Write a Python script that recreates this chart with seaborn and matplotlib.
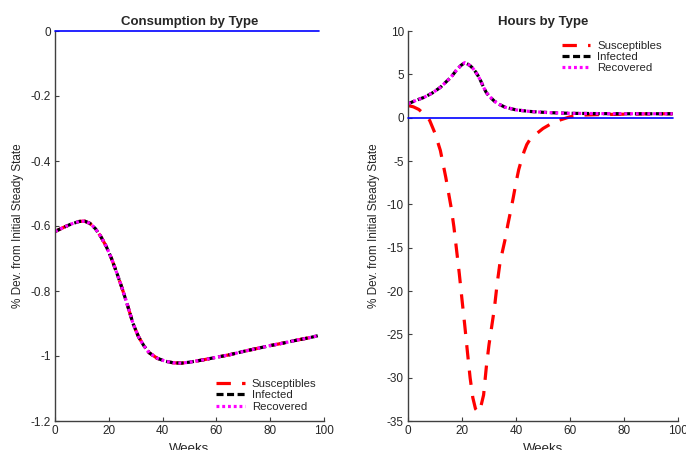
import matplotlib
matplotlib.use("Agg")
import matplotlib.pyplot as plt
import seaborn as sns
import pandas as pd

# ---- data -------------------------------------------------------------
cons_weeks = [0, 3, 6, 9, 11, 13, 15, 17, 19, 21, 23, 25, 27, 29, 31, 33, 35,
              38, 41, 44, 47, 50, 55, 60, 65, 70, 75, 80, 85, 90, 95, 98]
cons_values = [-0.617, -0.605, -0.594, -0.586, -0.585, -0.592, -0.608, -0.632,
               -0.662, -0.700, -0.745, -0.793, -0.845, -0.900, -0.940, -0.968,
               -0.990, -1.007, -1.016, -1.021, -1.022, -1.019, -1.012, -1.004,
               -0.996, -0.986, -0.977, -0.968, -0.960, -0.951, -0.943, -0.937]

hrs_inf_weeks = [0, 3, 6, 9, 12, 14, 16, 18, 19.5, 21, 22, 23, 24, 25, 26, 27,
                 28, 29, 30, 31, 32, 34, 36, 38, 40, 45, 50, 55, 60, 70, 80, 90, 98]
hrs_inf_values = [1.6, 2.0, 2.35, 2.85, 3.5, 4.1, 4.7, 5.5, 6.0, 6.35, 6.2, 6.0,
                  5.7, 5.3, 4.8, 4.2, 3.5, 2.9, 2.5, 2.2, 1.9, 1.5, 1.2, 1.05,
                  0.9, 0.72, 0.62, 0.55, 0.5, 0.47, 0.45, 0.45, 0.45]

hrs_sus_weeks = [0, 2, 4, 6, 8, 10, 12, 14, 16, 17, 18, 19, 20, 21, 22, 23, 24,
                 25, 26, 27, 28, 29, 30, 31, 32, 33, 34, 35, 36, 37, 38, 39, 40,
                 41, 42, 43, 44, 45, 47, 50, 53, 56, 60, 65, 70, 80, 90, 98]
hrs_sus_values = [1.4, 1.25, 0.95, 0.4, -0.3, -1.8, -3.8, -6.9, -10.4, -12.6,
                  -15.3, -18.0, -21.0, -23.9, -27.0, -30.0, -32.3, -33.6, -34.0,
                  -33.3, -32.0, -28.8, -26.2, -24.1, -22.0, -19.2, -16.9, -15.4,
                  -14.0, -12.3, -10.8, -9.2, -7.5, -6.0, -4.9, -3.9, -3.1, -2.6,
                  -2.0, -1.25, -0.7, -0.3, 0.1, 0.3, 0.35, 0.4, 0.45, 0.45]

zero_weeks = [0, 98]
zero_values = [0, 0]

series_names = ["Susceptibles", "Infected", "Recovered"]
cons_ticks = [-1.2, -1.0, -0.8, -0.6, -0.4, -0.2, 0]
cons_ticklabels = ["-1.2", "-1", "-0.8", "-0.6", "-0.4", "-0.2", "0"]
hrs_ticks = [-35, -30, -25, -20, -15, -10, -5, 0, 5, 10]
week_ticks = [0, 20, 40, 60, 80, 100]

# ---- style ------------------------------------------------------------
sns.set_theme(style="ticks")
plt.rcParams["font.family"] = ["Liberation Sans", "DejaVu Sans"]
plt.rcParams["axes.unicode_minus"] = False
plt.rcParams["text.color"] = "#262626"

AX_COL = "#404040"
styles = {
    "Susceptibles": dict(color="#ff0000", linestyle=(0, (4.5, 3.5))),
    "Infected": dict(color="#000000", linestyle=(0, (2.2, 1.1))),
    "Recovered": dict(color="#ff00ff", linestyle=(0, (0.9, 0.9))),
}
LW = 2.3

fig = plt.figure(figsize=(6.86, 4.5), dpi=100)
ax1 = fig.add_axes([55 / 686, 1 - 421 / 450, 269 / 686, 390 / 450])
ax2 = fig.add_axes([408 / 686, 1 - 421 / 450, 270 / 686, 390 / 450])


def draw(ax, curves):
    for name, (x, y) in curves.items():
        df = pd.DataFrame({"Weeks": x, "v": y})
        sns.lineplot(data=df, x="Weeks", y="v", ax=ax, lw=LW, label=name,
                     **styles[name])
    df0 = pd.DataFrame({"Weeks": zero_weeks, "v": zero_values})
    sns.lineplot(data=df0, x="Weeks", y="v", ax=ax, color="#0000ff", lw=1.2,
                 clip_on=False, zorder=5)


draw(ax1, {
    "Susceptibles": (cons_weeks, cons_values),
    "Infected": (cons_weeks, cons_values),
    "Recovered": (cons_weeks, cons_values),
})
draw(ax2, {
    "Susceptibles": (hrs_sus_weeks, hrs_sus_values),
    "Infected": (hrs_inf_weeks, hrs_inf_values),
    "Recovered": (hrs_inf_weeks, hrs_inf_values),
})

ax1.set_ylim(-1.2, 0)
ax1.set_yticks(cons_ticks)
ax1.set_yticklabels(cons_ticklabels)
ax2.set_ylim(-35, 10)
ax2.set_yticks(hrs_ticks)
ax2.set_yticklabels([str(t) for t in hrs_ticks])

for ax, title in [(ax1, "Consumption by Type"), (ax2, "Hours by Type")]:
    ax.set_xlim(0, 100)
    ax.set_xticks(week_ticks)
    sns.despine(ax=ax)
    for s in ("left", "bottom"):
        ax.spines[s].set_color(AX_COL)
        ax.spines[s].set_linewidth(1.0)
    ax.tick_params(direction="in", length=3, width=0.8, colors=AX_COL,
                   labelcolor="#262626", labelsize=8.5, pad=3)
    ax.set_title(title, fontsize=9.5, fontweight="bold", pad=4)
    ax.set_xlabel("Weeks", fontsize=9.5, labelpad=4)
    ax.set_ylabel("% Dev. from Initial Steady State", fontsize=8.5, labelpad=5)

leg_kw = dict(frameon=False, fontsize=8.2, handlelength=2.5, handletextpad=0.6,
              labelspacing=0.1, borderaxespad=0, borderpad=0, loc="upper left")
h1, l1 = ax1.get_legend_handles_labels()
ax1.legend(h1[:3], l1[:3], bbox_to_anchor=(0.60, 0.107), **leg_kw)
h2, l2 = ax2.get_legend_handles_labels()
ax2.legend(h2[:3], l2[:3], bbox_to_anchor=(0.57, 0.974), **leg_kw)

fig.savefig("out.png", dpi=100)
